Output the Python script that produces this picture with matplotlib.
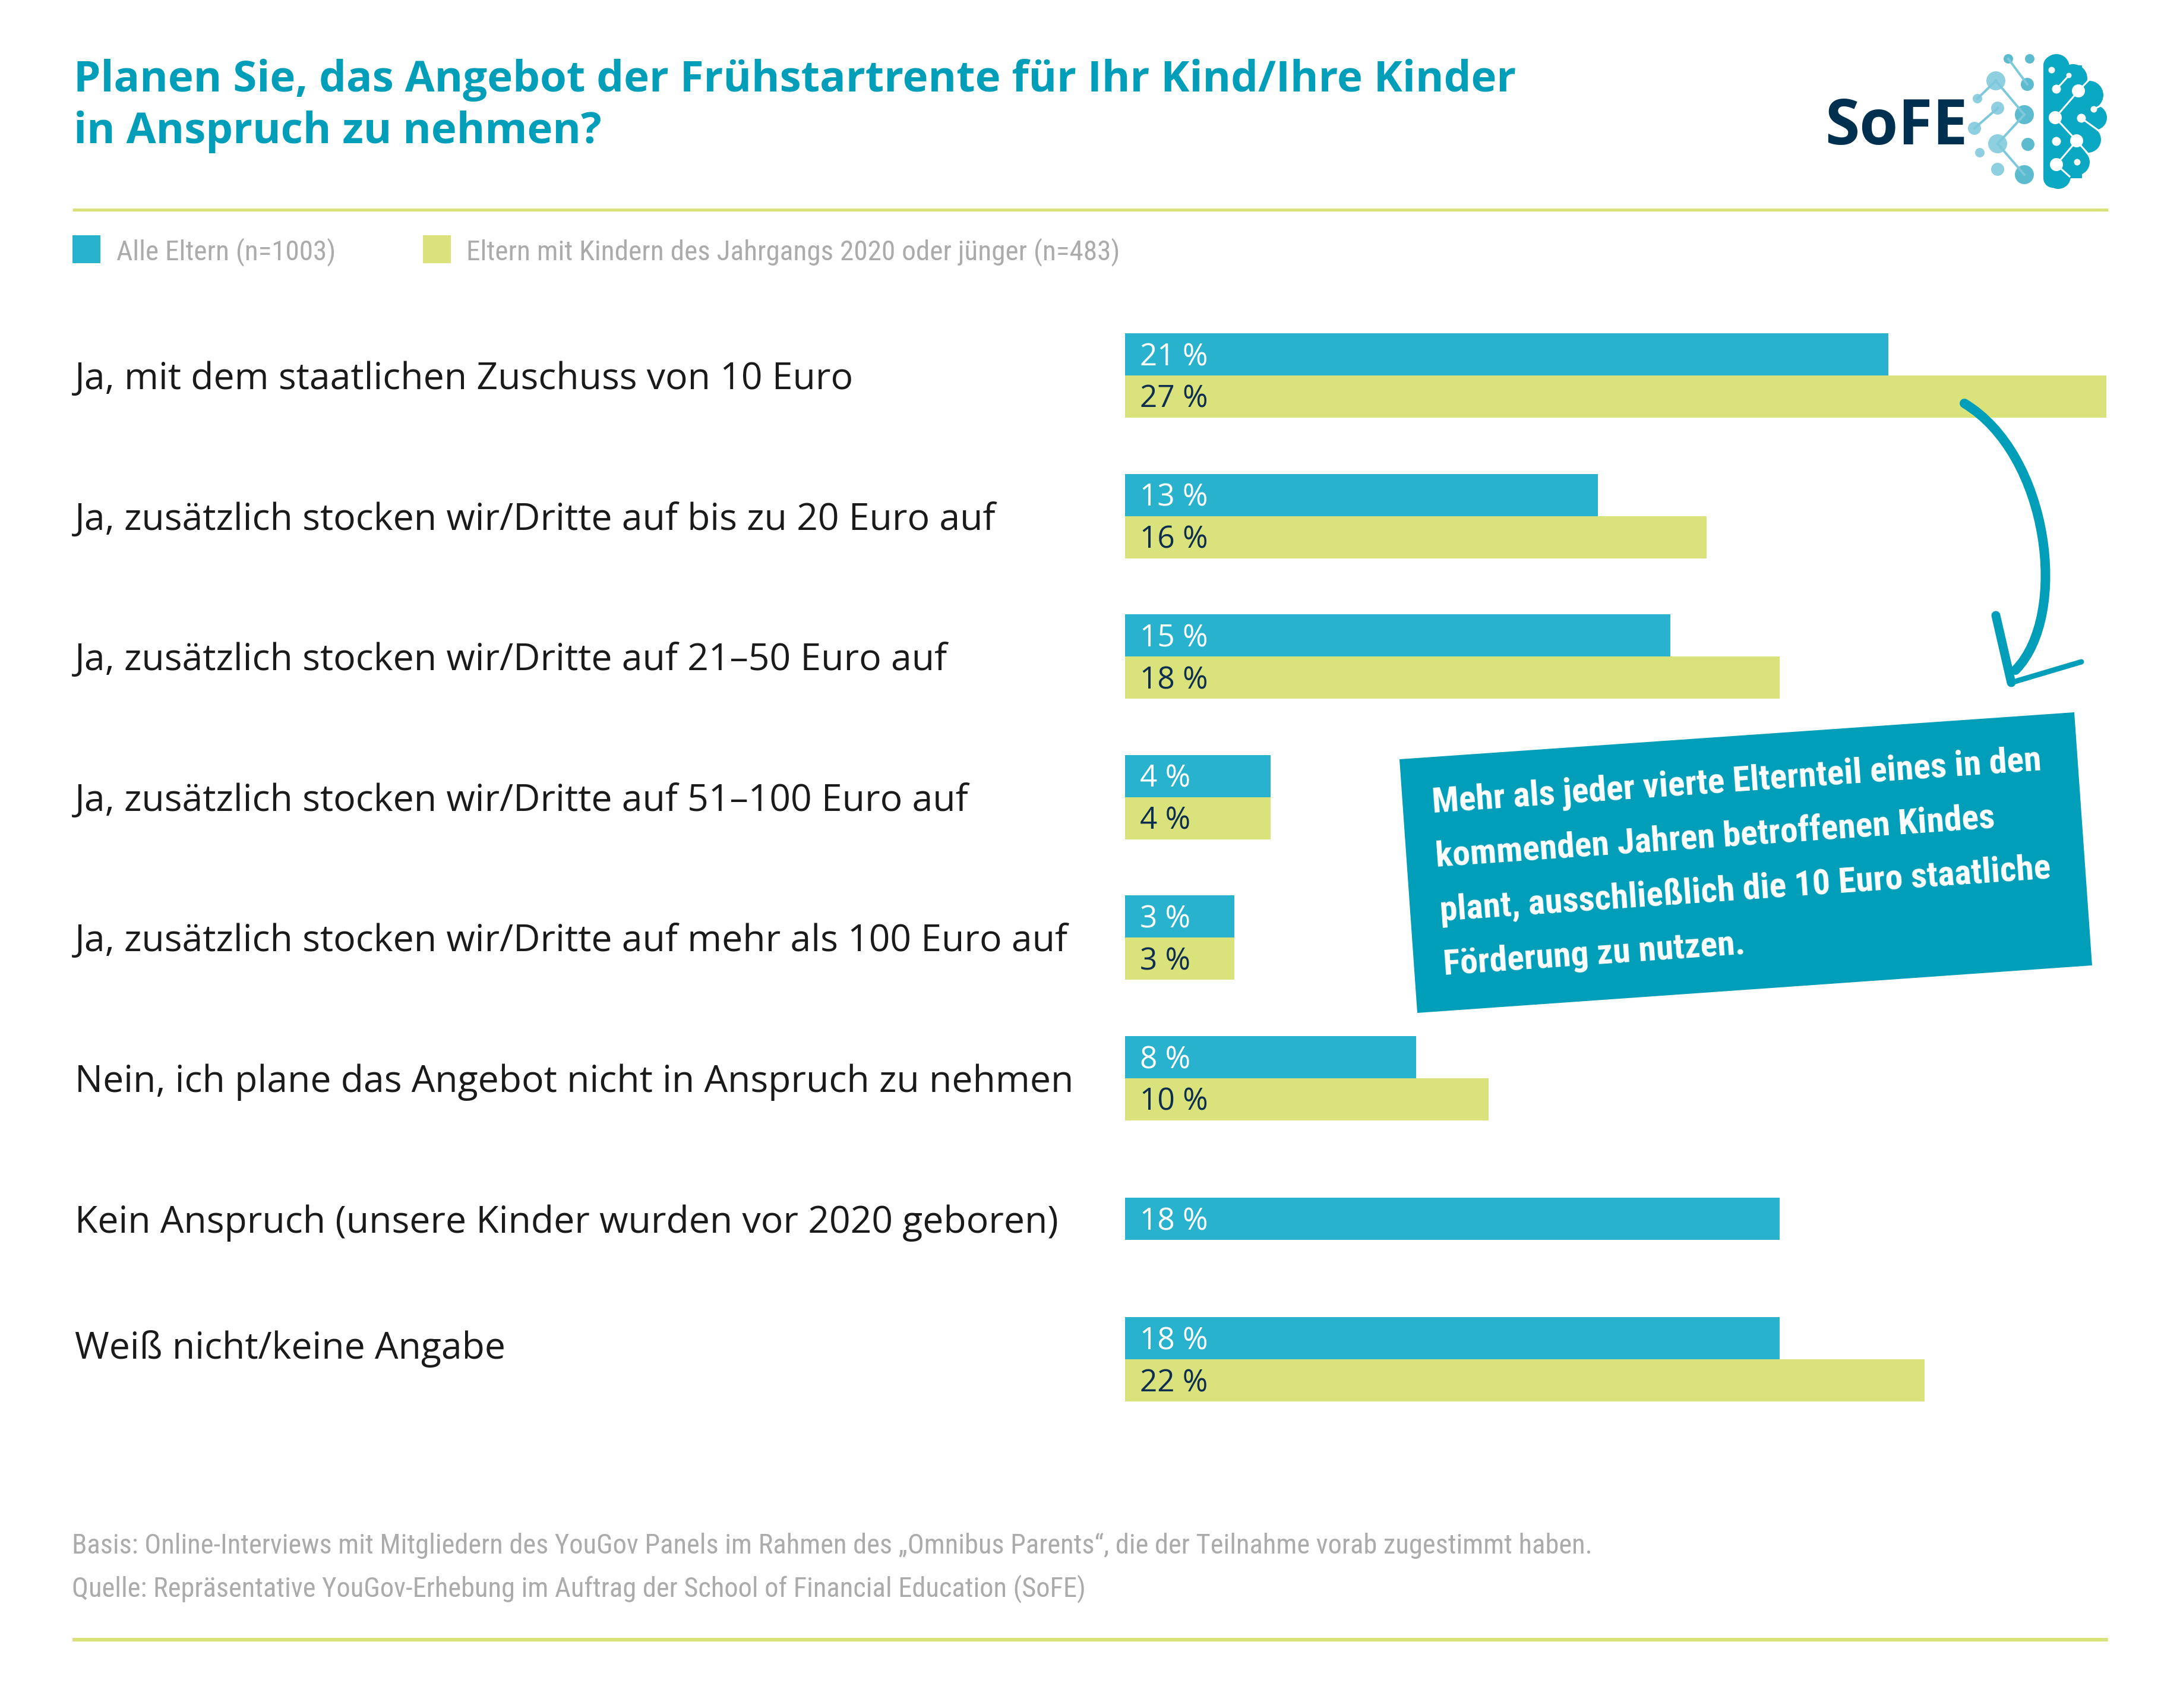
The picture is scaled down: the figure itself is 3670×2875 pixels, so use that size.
import matplotlib
matplotlib.use("Agg")
import matplotlib.pyplot as plt
from matplotlib import font_manager as fm
from matplotlib.patches import Rectangle, Polygon, Circle, PathPatch
from matplotlib.path import Path

# ---------------- data ----------------
categories = [
    "Ja, mit dem staatlichen Zuschuss von 10 Euro",
    "Ja, zusätzlich stocken wir/Dritte auf bis zu 20 Euro auf",
    "Ja, zusätzlich stocken wir/Dritte auf 21–50 Euro auf",
    "Ja, zusätzlich stocken wir/Dritte auf 51–100 Euro auf",
    "Ja, zusätzlich stocken wir/Dritte auf mehr als 100 Euro auf",
    "Nein, ich plane das Angebot nicht in Anspruch zu nehmen",
    "Kein Anspruch (unsere Kinder wurden vor 2020 geboren)",
    "Weiß nicht/keine Angabe",
]
alle_eltern = [21, 13, 15, 4, 3, 8, 18, 18]
eltern_2020 = [27, 16, 18, 4, 3, 10, None, 22]
series_names = ["Alle Eltern (n=1003)",
                "Eltern mit Kindern des Jahrgangs 2020 oder jünger (n=483)"]
title_lines = ["Planen Sie, das Angebot der Frühstartrente für Ihr Kind/Ihre Kinder",
               "in Anspruch zu nehmen?"]
callout_lines = ["Mehr als jeder vierte Elternteil eines in den",
                 "kommenden Jahren betroffenen Kindes",
                 "plant, ausschließlich die 10 Euro staatliche",
                 "Förderung zu nutzen."]
footer_lines = ["Basis: Online-Interviews mit Mitgliedern des YouGov Panels im Rahmen des „Omnibus Parents“, die der Teilnahme vorab zugestimmt haben.",
                "Quelle: Repräsentative YouGov-Erhebung im Auftrag der School of Financial Education (SoFE)"]

# ---------------- style ----------------
BLUE = "#28B2CD"
LIME = "#D9E27B"
TEAL = "#009EB9"
NAVY = "#0D2E4E"
GREY = "#ABABAB"
LINE = "#D9E17A"

W, H = 3670, 2875
DPI = 100
PX = 72.0 / DPI  # points per pixel

names = {f.name for f in fm.fontManager.ttflist}
COND = None
for cand in ["Roboto Condensed", "Liberation Sans Narrow", "Open Sans Condensed"]:
    if cand in names:
        COND = cand
        break
cond_kw = dict(family=[COND] if COND else ["DejaVu Sans"],
               fontstretch="condensed")

fig = plt.figure(figsize=(W / DPI, H / DPI), dpi=DPI)
fig.patch.set_facecolor("white")

# ---------------- bar axes ----------------
x0 = 1894
per_pct = 61.2
xmax = 27
y_first, spacing = 632, 236.6
n = len(categories)
top_px = y_first - spacing / 2
bot_px = y_first + (n - 1) * spacing + spacing / 2
ax = fig.add_axes([x0 / W, 1 - bot_px / H, xmax * per_pct / W, (bot_px - top_px) / H])
ax.set_xlim(0, xmax)
ax.set_ylim(n - 0.5, -0.5)
ax.axis("off")

label_shift_px = {7: -24}
bh = 0.30
for i, (a, b) in enumerate(zip(alle_eltern, eltern_2020)):
    if b is None:
        ya = i
    else:
        ya = i - bh / 2
        ax.barh(i + bh / 2, b, height=bh, color=LIME, edgecolor="none")
        ax.annotate(f"{b} %", xy=(0, i + bh / 2), xytext=(25 * PX, -18.5 * PX),
                    textcoords="offset points", ha="left", va="baseline",
                    family="Open Sans", fontsize=37, color=NAVY)
    ax.barh(ya, a, height=bh, color=BLUE, edgecolor="none")
    ax.annotate(f"{a} %", xy=(0, ya), xytext=(25 * PX, -18.5 * PX),
                textcoords="offset points", ha="left", va="baseline",
                family="Open Sans", fontsize=37, color="white")
    # category label
    dy = -(23 + label_shift_px.get(i, 0)) * PX
    ax.annotate(categories[i], xy=(126 / W, i), xycoords=("figure fraction", "data"),
                xytext=(0, dy), textcoords="offset points",
                ha="left", va="baseline", family="Open Sans", fontsize=45,
                color="#1A1A1A", annotation_clip=False)

# ---------------- decoration axes (pixel coords) ----------------
deco = fig.add_axes([0, 0, 1, 1], zorder=5)
deco.set_xlim(0, W)
deco.set_ylim(H, 0)
deco.axis("off")

# title
for line, base in zip(title_lines, [154, 241]):
    deco.text(124, base, line, ha="left", va="baseline", family="Open Sans",
              fontweight="bold", fontsize=52.2, color=TEAL)

# rules
for yy, lw in [(352.5, 5), (2760, 6)]:
    deco.plot([122, 3549], [yy, yy], color=LINE, lw=lw * PX, solid_capstyle="butt")

# legend
for (sx, tx), col, lab in zip([(122, 196), (712, 785)], [BLUE, LIME], series_names):
    deco.add_patch(Rectangle((sx, 396), 47, 47, facecolor=col, edgecolor="none"))
    deco.text(tx, 437, lab, ha="left", va="baseline", fontsize=34, color=GREY, **cond_kw)

# footer
for line, base in zip(footer_lines, [2615, 2687]):
    deco.text(121, base, line, ha="left", va="baseline", fontsize=33.5, color=GREY, **cond_kw)

# callout box
deco.add_patch(Polygon([(2356, 1278), (3492, 1199), (3522, 1625), (2386, 1705)],
                       closed=True, facecolor=TEAL, edgecolor="none"))
for line, (lx, ly) in zip(callout_lines, [(2412, 1368), (2418, 1459), (2425, 1550), (2431, 1641)]):
    deco.text(lx, ly, line, ha="left", va="baseline", rotation=4, rotation_mode="anchor",
              fontsize=43, fontweight="bold", color="white", **cond_kw)

# curved arrow
curve = Path([(3307, 679), (3450, 765), (3484, 1035), (3393, 1128)],
             [Path.MOVETO, Path.CURVE4, Path.CURVE4, Path.CURVE4])
deco.add_patch(PathPatch(curve, facecolor="none", edgecolor=TEAL, lw=16 * PX,
                         capstyle="round"))
deco.plot([3360, 3386], [1036, 1149], color=TEAL, lw=15 * PX, solid_capstyle="round")
deco.plot([3386, 3504], [1149, 1114], color=TEAL, lw=9 * PX, solid_capstyle="round")

# ---------------- logo ----------------
deco.text(3072, 243, "SoFE", ha="left", va="baseline", family="Open Sans",
          fontweight="bold", fontsize=76, color="#00304F")
left_dots = [(3381, 99, 8), (3417, 99, 8), (3360, 136, 16), (3413, 142, 11),
             (3329, 166, 8), (3363, 182, 11), (3408, 193, 16), (3324, 216, 11),
             (3363, 242, 16), (3414, 243, 11), (3333, 257, 8), (3363, 285, 11),
             (3408, 294, 16)]
left_links = [(0, 3), (2, 4), (2, 6), (5, 7), (6, 8), (8, 12)]
for a, b in left_links:
    deco.plot([left_dots[a][0], left_dots[b][0]], [left_dots[a][1], left_dots[b][1]],
              color="#7DC8DB", lw=4 * PX)
for (cx, cy, r) in left_dots:
    c = "#8FD0E0" if cx < 3370 else "#5DBBD0"
    deco.add_patch(Circle((cx, cy), r, facecolor=c, edgecolor="none"))
# brain half
brain_col = "#0BA8C4"
deco.add_patch(Rectangle((3440, 110), 65, 190, facecolor=brain_col, edgecolor="none"))
for (cx, cy, r) in [(3456, 110, 16), (3456, 300, 16), (3462, 113, 22), (3490, 132, 24),
                    (3517, 160, 24), (3526, 198, 21), (3515, 235, 22), (3496, 273, 22),
                    (3465, 297, 21), (3490, 200, 30), (3480, 250, 30)]:
    deco.add_patch(Circle((cx, cy), r, facecolor=brain_col, edgecolor="none"))
white_dots = [(3454, 118, 5.5), (3483, 127, 4.5), (3462, 150, 7.5), (3499, 153, 11),
              (3525, 184, 5.5), (3460, 198, 11), (3504, 199, 7.5), (3462, 238, 7.5),
              (3496, 237, 11), (3462, 277, 11), (3497, 273, 5.5)]
white_links = [((3483, 127), (3462, 150)), ((3499, 153), (3460, 198)),
               ((3460, 198), (3496, 237)), ((3496, 237), (3462, 277)),
               ((3504, 199), (3536, 222)), ((3462, 277), (3484, 297)),
               ((3496, 237), (3518, 262)), ((3525, 184), (3540, 176)),
               ((3499, 153), (3523, 128))]
for (p, q) in white_links:
    deco.plot([p[0], q[0]], [p[1], q[1]], color="white", lw=3 * PX)
for (cx, cy, r) in white_dots:
    deco.add_patch(Circle((cx, cy), r, facecolor="white", edgecolor="none"))

fig.savefig("out.png", dpi=DPI, facecolor="white")
